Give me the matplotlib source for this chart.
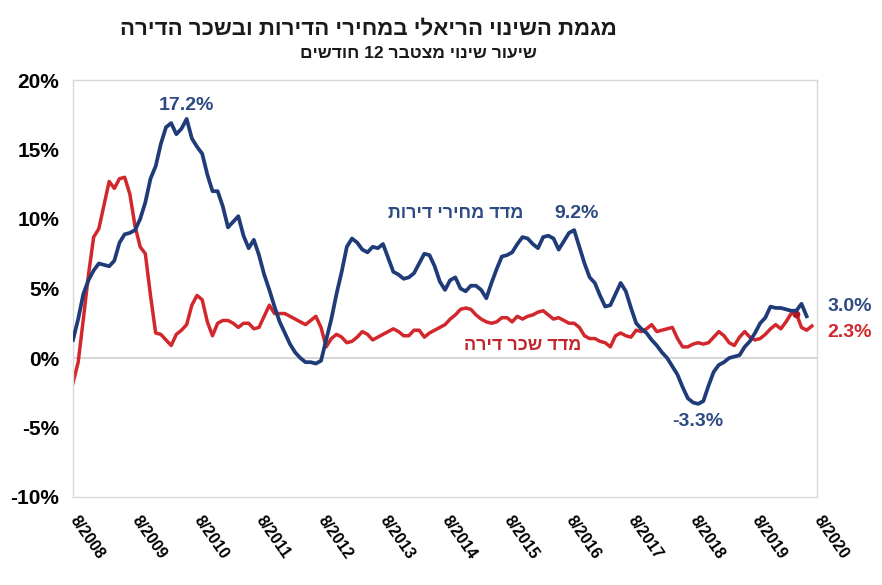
import numpy as np
import matplotlib.pyplot as plt

# שינוי ריאלי מצטבר 12 חודשים, נתונים חודשיים מ-8/2008
mehirim = [1.3, 2.8, 4.6, 5.6, 6.3, 6.8, 6.7, 6.6, 7.0, 8.3, 8.9, 9.0,
           9.2, 10.0, 11.2, 12.9, 13.8, 15.4, 16.6, 16.9, 16.1, 16.5, 17.2, 15.8,
           15.2, 14.7, 13.2, 12.0, 12.0, 10.9, 9.4, 9.8, 10.2, 8.8, 7.9, 8.5,
           7.4, 6.0, 4.9, 3.7, 2.6, 1.8, 1.0, 0.4, 0.0, -0.3, -0.3, -0.4,
           -0.2, 1.3, 2.8, 4.6, 6.2, 8.0, 8.6, 8.3, 7.8, 7.6, 8.0, 7.9,
           8.2, 7.2, 6.2, 6.0, 5.7, 5.8, 6.1, 6.8, 7.5, 7.4, 6.6, 5.5,
           4.9, 5.6, 5.8, 5.0, 4.8, 5.2, 5.2, 4.9, 4.3, 5.4, 6.4, 7.3,
           7.4, 7.6, 8.2, 8.7, 8.6, 8.2, 7.9, 8.7, 8.8, 8.6, 7.8, 8.4,
           9.0, 9.2, 8.0, 6.8, 5.8, 5.4, 4.5, 3.7, 3.8, 4.6, 5.4, 4.8,
           3.6, 2.5, 2.1, 1.8, 1.3, 0.9, 0.4, 0.0, -0.6, -1.2, -2.1, -2.9,
           -3.2, -3.3, -3.1, -2.0, -1.0, -0.5, -0.3, 0.0, 0.1, 0.2, 0.8, 1.2,
           1.8, 2.5, 2.9, 3.7, 3.6, 3.6, 3.5, 3.4, 3.4, 3.9, 3.0]

schar = [-1.8, -0.3, 2.8, 6.0, 8.7, 9.3, 11.0, 12.7, 12.2, 12.9, 13.0, 11.8,
         9.5, 8.0, 7.5, 4.5, 1.8, 1.7, 1.3, 0.9, 1.7, 2.0, 2.4, 3.8,
         4.5, 4.2, 2.6, 1.6, 2.5, 2.7, 2.7, 2.5, 2.2, 2.5, 2.5, 2.1,
         2.2, 3.0, 3.8, 3.2, 3.2, 3.2, 3.0, 2.8, 2.6, 2.4, 2.7, 3.0,
         2.2, 0.8, 1.4, 1.7, 1.5, 1.1, 1.2, 1.5, 1.9, 1.7, 1.3, 1.5,
         1.7, 1.9, 2.1, 1.9, 1.6, 1.6, 2.0, 2.0, 1.5, 1.8, 2.0, 2.2,
         2.4, 2.8, 3.1, 3.5, 3.6, 3.5, 3.1, 2.8, 2.6, 2.5, 2.6, 2.9,
         2.9, 2.6, 3.0, 2.8, 3.0, 3.1, 3.3, 3.4, 3.1, 2.8, 2.9, 2.7,
         2.5, 2.5, 2.2, 1.6, 1.4, 1.4, 1.2, 1.1, 0.8, 1.6, 1.8, 1.6,
         1.5, 2.0, 1.9, 2.1, 2.4, 1.9, 2.0, 2.1, 2.2, 1.4, 0.8, 0.8,
         1.0, 1.1, 1.0, 1.1, 1.5, 1.9, 1.6, 1.1, 0.9, 1.5, 1.9, 1.5,
         1.3, 1.4, 1.7, 2.1, 2.4, 2.1, 2.6, 3.2, 3.2, 2.2, 2.0, 2.3]

shanim = ['8/2008', '8/2009', '8/2010', '8/2011', '8/2012', '8/2013', '8/2014',
          '8/2015', '8/2016', '8/2017', '8/2018', '8/2019', '8/2020']
y_ticks = [-10, -5, 0, 5, 10, 15, 20]

title = 'מגמת השינוי הריאלי במחירי הדירות ובשכר הדירה'
subtitle = 'שיעור שינוי מצטבר 12 חודשים'
label_mehirim = 'מדד מחירי דירות'
label_schar = 'מדד שכר דירה'

BLUE = '#1f3b78'
BLUE_TXT = '#2e4a82'
RED = '#d2272c'
FONT = ['Liberation Sans', 'DejaVu Sans']


# matplotlib לא הופך טקסט מימין לשמאל - הופכים ידנית
def rtl(text):
    words = text.split(' ')[::-1]
    return ' '.join(w if w.isdigit() else w[::-1] for w in words)


plt.rcParams['font.family'] = FONT

fig = plt.figure(figsize=(8.82, 5.85), dpi=100)
ax = fig.add_axes([73 / 882, 88 / 585, 744 / 882, 417 / 585])

x_m = np.arange(len(mehirim))
x_s = np.arange(len(schar))
ax.axhline(0, color='#cfcfcf', lw=1.2, zorder=1)
ax.plot(x_s, schar, color=RED, lw=2.5, zorder=2,
        marker='o', markevery=[140], ms=4.5, mfc='#b01a1f', mec='#b01a1f')
ax.plot(x_m, mehirim, color=BLUE, lw=2.7, zorder=3)

ax.set_xlim(0, 144)
ax.set_ylim(-10, 20)
ax.set_yticks(y_ticks)
ax.set_yticklabels([f'{v}%' for v in y_ticks], fontsize=15, fontweight='bold')
ax.set_xticks(np.arange(0, 145, 12))
ax.set_xticklabels(shanim, fontsize=11.5, fontweight='bold', rotation=-55,
                   ha='left', va='center', rotation_mode='anchor')
ax.tick_params(axis='both', length=0)
ax.tick_params(axis='x', pad=15)
ax.tick_params(axis='y', pad=10)
for s in ax.spines.values():
    s.set_color('#d9d9d9')
    s.set_linewidth(1.0)

# תוויות על הגרף
ax.text(22, 18.2, '17.2%', color=BLUE_TXT, fontsize=14, fontweight='bold', ha='center', va='center')
ax.text(97.5, 10.4, '9.2%', color=BLUE_TXT, fontsize=14, fontweight='bold', ha='center', va='center')
ax.text(121, -4.6, '-3.3%', color=BLUE_TXT, fontsize=14, fontweight='bold', ha='center', va='center')
ax.text(146, 3.7, '3.0%', color=BLUE_TXT, fontsize=14, fontweight='bold', ha='left', va='center',
        clip_on=False)
ax.text(146, 1.8, '2.3%', color=RED, fontsize=14, fontweight='bold', ha='left', va='center',
        clip_on=False)
ax.text(74, 10.4, rtl(label_mehirim), color=BLUE_TXT, fontsize=13, fontweight='bold',
        ha='center', va='center')
ax.text(87, 0.9, rtl(label_schar), color='#c0262b', fontsize=13, fontweight='bold',
        ha='center', va='center')

fig.text(368 / 882, 1 - 30 / 585, rtl(title), fontsize=16, fontweight='bold',
         ha='center', va='center', color='#1a1a1a')
fig.text(418 / 882, 1 - 53 / 585, rtl(subtitle), fontsize=12.5, fontweight='bold',
         ha='center', va='center', color='#1a1a1a')

fig.savefig('out.png', dpi=100)
